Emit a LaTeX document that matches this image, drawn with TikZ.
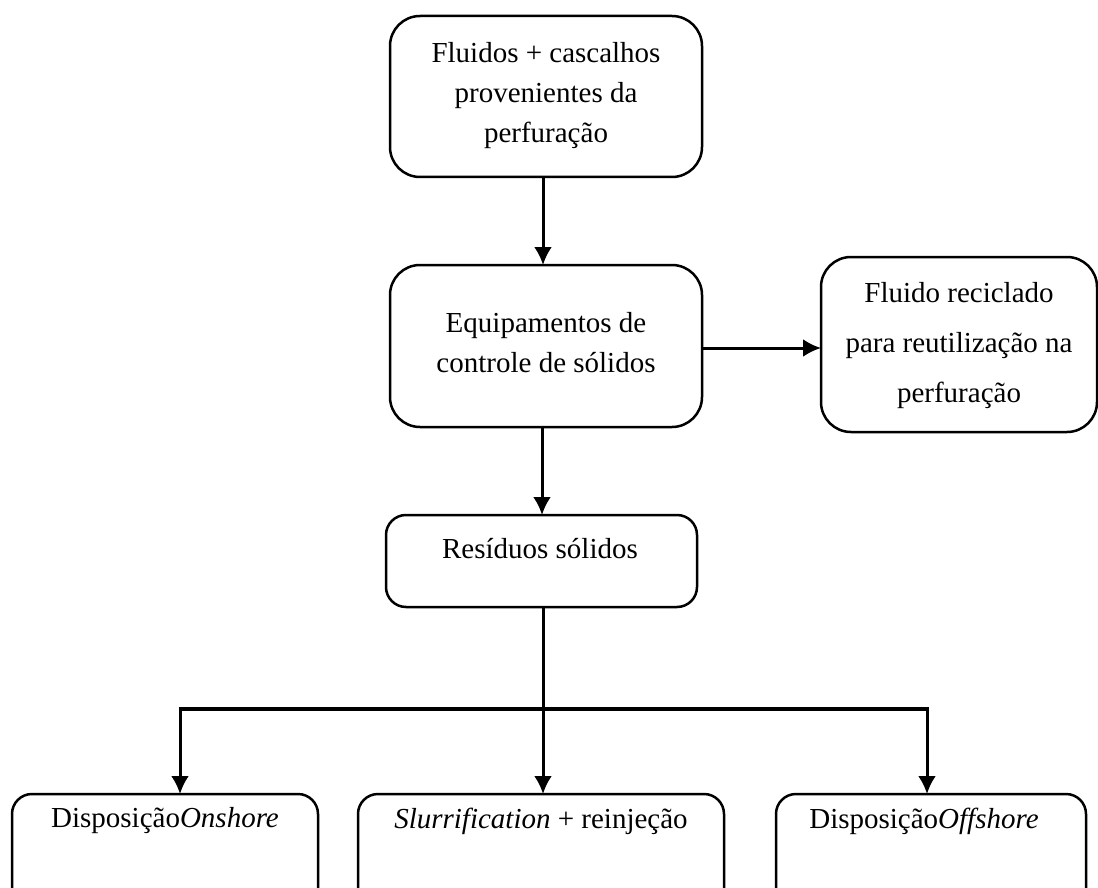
\documentclass[tikz,border=0pt]{standalone}
\usepackage{fontspec}
\setmainfont{Liberation Serif}
\usetikzlibrary{arrows.meta,calc}
\begin{document}
\begin{tikzpicture}[x=1pt,y=-1pt,
  box/.style={draw,line width=2.5pt,inner sep=0pt,outer sep=0pt},
  txt/.style={align=center,inner sep=0pt,font=\fontsize{29}{40}\selectfont},
  wtxt/.style={align=center,inner sep=0pt,font=\fontsize{29}{50}\selectfont},
  arr/.style={line width=3pt,-{Latex[length=18pt,width=18pt]}},
  ln/.style={line width=3pt},
  bar/.style={line width=4pt}]
\clip (0,0) rectangle (1098,888);
% boxes
\node[box,minimum width=312pt,minimum height=161pt,rounded corners=30pt] (top) at (546,96.5) {};
\node[box,minimum width=312pt,minimum height=162pt,rounded corners=30pt] (mid) at (546,346) {};
\node[box,minimum width=276pt,minimum height=175pt,rounded corners=30pt] (rec) at (959,344.5) {};
\node[box,minimum width=311pt,minimum height=92pt,rounded corners=20pt] (res) at (541.5,561) {};
\node[box,minimum width=306pt,minimum height=130pt,rounded corners=20pt] (on) at (165,859) {};
\node[box,minimum width=366pt,minimum height=130pt,rounded corners=20pt] (slu) at (541,859) {};
\node[box,minimum width=310pt,minimum height=130pt,rounded corners=20pt] (off) at (931,859) {};
% texts
\node[txt] (ttop) at (546,96) {Fluidos + cascalhos\\provenientes da\\perfuração};
\node[txt] (tmid) at (546,343) {Equipamentos de\\controle de sólidos};
\node[wtxt] (trec) at (959,346) {Fluido reciclado\\para reutilização na\\perfuração};
\node[txt] (tres) at (540,549) {Resíduos sólidos};
\node[txt] (ton) at (165,821) {Disposição\textit{Onshore}};
\node[txt] (tslu) at (541,821) {\textit{Slurrification} + reinjeção};
\node[txt] (toff) at (924,821) {Disposição\textit{Offshore}};
% connectors
\draw[arr] ([xshift=-3pt]top.south) -- ([xshift=-3pt]mid.north);
\draw[arr] ([yshift=-2pt]mid.east) -- ([yshift=-2pt]mid.east -| rec.west);
\draw[arr] ([xshift=-4pt]mid.south) -- ([xshift=-4pt]mid.south |- res.north);
\coordinate (split) at (543,709);
\coordinate (jl) at (180,709);
\coordinate (jr) at (927,709);
\draw[ln] (res.south -| split) -- (split);
\draw[bar] ([xshift=-1.5pt]jl) -- ([xshift=1.5pt]jr);
\draw[arr] (jl) -- (jl |- on.north);
\draw[arr] (split) -- (split |- slu.north);
\draw[arr] (jr) -- (jr |- off.north);
\end{tikzpicture}
\end{document}
